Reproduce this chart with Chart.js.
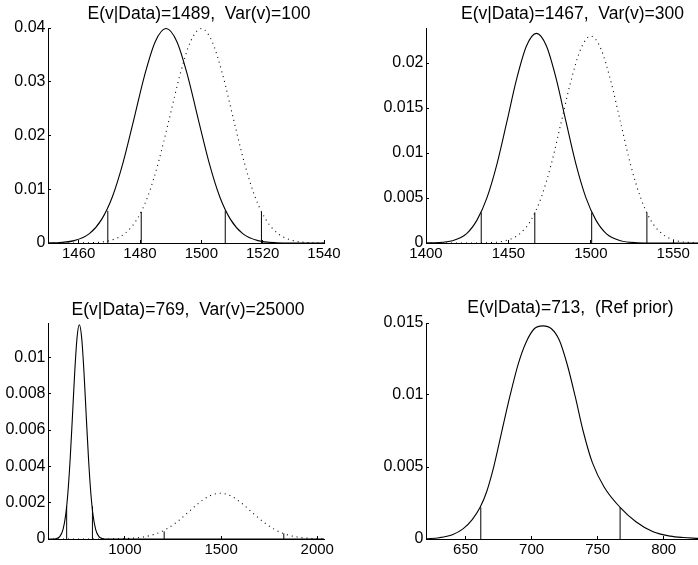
<!DOCTYPE html>
<html>
<head>
<meta charset="utf-8">
<script src="https://cdn.jsdelivr.net/npm/chart.js@4.4.0/dist/chart.umd.min.js"></script>
<style>
  body { margin: 0; background: #fff; }
  #wrap { position: relative; width: 698px; height: 565px; overflow: hidden; }
  canvas { position: absolute; }
</style>
</head>
<body>
<div id="wrap">
  <canvas id="c1" width="349" height="280" style="left:0;top:0"></canvas>
  <canvas id="c2" width="349" height="280" style="left:349px;top:0"></canvas>
  <canvas id="c3" width="349" height="285" style="left:0;top:280px"></canvas>
  <canvas id="c4" width="349" height="285" style="left:349px;top:280px"></canvas>
</div>
<script>
// panel titles
const titles = [
  "E(v|Data)=1489,  Var(v)=100",
  "E(v|Data)=1467,  Var(v)=300",
  "E(v|Data)=769,  Var(v)=25000",
  "E(v|Data)=713,  (Ref prior)"
];

// panel 1 - prior var 100
const p1PostX = [1450, 1452.5, 1458.5, 1463.5, 1467.5, 1471, 1474.5, 1478, 1481.5, 1485, 1488.5, 1492, 1495.5, 1499, 1502.5, 1506, 1509.5, 1513.5, 1518.5, 1524.5, 1530.5, 1540];
const p1PostY = [0.00002, 0.00006, 0.00044, 0.00175, 0.0044, 0.0086, 0.0150, 0.0230, 0.0312, 0.0375, 0.0399, 0.0375, 0.0312, 0.0230, 0.0150, 0.0086, 0.0044, 0.00175, 0.00044, 0.00006, 0.00001, 0];
const p1PriorX = [1450, 1458, 1464, 1470, 1475, 1479, 1482.5, 1486, 1489.5, 1493, 1496.5, 1500, 1503.5, 1507, 1510.5, 1514, 1517.5, 1521, 1525, 1530, 1536, 1540];
const p1PriorY = [0, 0.00001, 0.00006, 0.00044, 0.00175, 0.0044, 0.0086, 0.0150, 0.0230, 0.0312, 0.0375, 0.0399, 0.0375, 0.0312, 0.0230, 0.0150, 0.0086, 0.0044, 0.00175, 0.00044, 0.00006, 0.00001];
const p1QuantX = [1469.5, 1480.4, 1507.8, 1519.6];
const p1QuantH = [0.0060, 0.0058, 0.0060, 0.0058];
const p1XTicks = [1460, 1480, 1500, 1520, 1540];
const p1XLabels = ["1460", "1480", "1500", "1520", "1540"];
const p1YTicks = [0, 0.01, 0.02, 0.03, 0.04];
const p1YLabels = ["0", "0.01", "0.02", "0.03", "0.04"];

// panel 2 - prior var 300
const p2PostX = [1400, 1405.8, 1416, 1424.5, 1431, 1437, 1443, 1449, 1455, 1461, 1467, 1473, 1479, 1485, 1491, 1497, 1503, 1509.5, 1518, 1528.2, 1538.4, 1565];
const p2PostY = [0.00001, 0.000036, 0.00026, 0.00102, 0.00257, 0.00504, 0.00874, 0.01343, 0.01824, 0.02192, 0.0233, 0.02192, 0.01824, 0.01343, 0.00874, 0.00504, 0.00257, 0.00102, 0.00026, 0.000036, 0.000003, 0];
const p2PriorX = [1400, 1427.3, 1437.7, 1448.1, 1456.8, 1463.7, 1469.7, 1475.8, 1481.8, 1487.9, 1494, 1500, 1506, 1512.1, 1518.2, 1524.2, 1530.3, 1536.3, 1543.3, 1551.9, 1562.3, 1565];
const p2PriorY = [0, 0.000003, 0.000035, 0.000256, 0.00101, 0.00254, 0.00497, 0.00863, 0.01325, 0.0180, 0.02163, 0.0230, 0.02163, 0.0180, 0.01325, 0.00863, 0.00497, 0.00254, 0.00101, 0.000256, 0.000035, 0.00002];
const p2QuantX = [1433.5, 1466, 1500.5, 1534];
const p2QuantH = [0.0034, 0.0034, 0.0034, 0.0034];
const p2XTicks = [1400, 1450, 1500, 1550];
const p2XLabels = ["1400", "1450", "1500", "1550"];
const p2YTicks = [0, 0.005, 0.01, 0.015, 0.02];
const p2YLabels = ["0", "0.005", "0.01", "0.015", "0.02"];

// panel 3 - prior var 25000
const p3PostX = [600, 620.2, 640.6, 661, 678, 691.6, 703.5, 715.4, 727.3, 739.2, 751.1, 763, 774.9, 786.8, 798.7, 810.6, 822.5, 834.4, 848, 865, 885.4, 905.8, 2035];
const p3PostY = [0, 0.000002, 0.000018, 0.00013, 0.00052, 0.0013, 0.00255, 0.00443, 0.0068, 0.00924, 0.0111, 0.0118, 0.0111, 0.00924, 0.0068, 0.00443, 0.00255, 0.0013, 0.00052, 0.00013, 0.000018, 0.000002, 0];
const p3PriorX = [600, 823, 919, 1015, 1095, 1159, 1215, 1271, 1327, 1383, 1439, 1495, 1551, 1607, 1663, 1719, 1775, 1831, 1895, 1975, 2035];
const p3PriorY = [0, 0.0000004, 0.000004, 0.000028, 0.000111, 0.000278, 0.000545, 0.000946, 0.001452, 0.00197, 0.00237, 0.00252, 0.00237, 0.00197, 0.001452, 0.000946, 0.000545, 0.000278, 0.000111, 0.000028, 0.000008];
const p3QuantX = [697, 831, 1204, 1826];
const p3QuantH = [0.0018, 0.0018, 0.00042, 0.00031];
const p3XTicks = [1000, 1500, 2000];
const p3XLabels = ["1000", "1500", "2000"];
const p3YTicks = [0, 0.002, 0.004, 0.006, 0.008, 0.01];
const p3YLabels = ["0", "0.002", "0.004", "0.006", "0.008", "0.01"];

// panel 4 - reference prior, no prior curve
const p4PostX = [620, 630, 640, 648, 655, 661, 666, 671, 677, 683.5, 690, 696, 702, 708.5, 715, 721, 727, 733, 739, 746, 755, 767, 779, 792, 805, 815, 826];
const p4PostY = [0.00002, 0.00009, 0.0003, 0.0007, 0.00135, 0.0022, 0.0033, 0.0049, 0.0073, 0.0099, 0.0122, 0.0137, 0.0146, 0.0148, 0.0146, 0.0138, 0.0121, 0.0099, 0.0075, 0.0053, 0.0036, 0.0022, 0.0012, 0.0005, 0.0002, 0.0001, 0.00004];
const p4QuantX = [661.5, 767];
const p4QuantH = [0.0022, 0.0022];
const p4XTicks = [650, 700, 750, 800];
const p4XLabels = ["650", "700", "750", "800"];
const p4YTicks = [0, 0.005, 0.01, 0.015];
const p4YLabels = ["0", "0.005", "0.01", "0.015"];

Chart.defaults.font.family = '"Liberation Sans", Arial, Helvetica, sans-serif';
Chart.defaults.color = "#000";

const zip = (xs, ys) => xs.map((x, i) => ({ x: x, y: ys[i] }));

// move the title sideways after layout (matlab centres it a bit off)
const nudgeTitle = {
  id: "nudgeTitle",
  afterLayout(chart, args, opts) {
    const t = chart.titleBlock;
    if (t && opts.dx) {
      t.left += opts.dx;
      t.right += opts.dx;
    }
  }
};

function makePanel(id, p) {
  const datasets = [
    { data: zip(p.postX, p.postY), showLine: true, borderColor: "#000", borderWidth: 1.1, cubicInterpolationMode: "monotone" }
  ];
  if (p.priorX) {
    datasets.push({ data: zip(p.priorX, p.priorY), showLine: true, borderColor: "#000", borderWidth: 1.1, borderDash: [1, 4], cubicInterpolationMode: "monotone" });
  }
  p.qX.forEach((x, i) => {
    datasets.push({ data: [{ x: x, y: 0 }, { x: x, y: p.qH[i] }], showLine: true, borderColor: "#000", borderWidth: 1 });
  });

  new Chart(document.getElementById(id), {
    type: "scatter",
    data: { datasets },
    plugins: [nudgeTitle],
    options: {
      responsive: false,
      animation: false,
      devicePixelRatio: 1,
      layout: { padding: { left: 0, right: p.padRight, top: 0, bottom: 0 } },
      elements: { point: { radius: 0 } },
      plugins: {
        legend: { display: false },
        tooltip: { enabled: false },
        title: {
          display: true,
          text: p.title,
          color: "#000",
          font: { size: 17.5, weight: "normal" },
          padding: { top: p.titleTop, bottom: p.titleBottom }
        },
        nudgeTitle: { dx: p.titleDx }
      },
      scales: {
        x: {
          type: "linear",
          min: p.xMin,
          max: p.xMax,
          afterBuildTicks: s => { s.ticks = p.xTicks.map(v => ({ value: v })); },
          afterFit: s => { s.height = p.xAxisH; },
          ticks: { autoSkip: false, maxRotation: 0, padding: 5, font: { size: 15 }, callback: (v, i) => p.xLabels[i] },
          grid: { drawOnChartArea: false, drawTicks: true, tickLength: -3, color: "#000" },
          border: { display: true, color: "#000", width: 1 }
        },
        y: {
          type: "linear",
          min: 0,
          max: p.yMax,
          afterBuildTicks: s => { s.ticks = p.yTicks.map(v => ({ value: v })); },
          afterFit: s => { s.width = p.yAxisW; },
          ticks: { autoSkip: false, padding: 5.5, font: { size: 16 }, callback: (v, i) => p.yLabels[i] },
          grid: { drawOnChartArea: false, drawTicks: true, tickLength: -3, color: "#000" },
          border: { display: true, color: "#000", width: 1 }
        }
      }
    }
  });
}

makePanel("c1", {
  title: titles[0], titleTop: 4.0, titleBottom: 3.0, titleDx: 37,
  postX: p1PostX, postY: p1PostY, priorX: p1PriorX, priorY: p1PriorY, qX: p1QuantX, qH: p1QuantH,
  xMin: 1450, xMax: 1540, yMax: 0.04,
  xTicks: p1XTicks, xLabels: p1XLabels, yTicks: p1YTicks, yLabels: p1YLabels,
  yAxisW: 48, xAxisH: 37, padRight: 25
});
makePanel("c2", {
  title: titles[1], titleTop: 4.0, titleBottom: 3.0, titleDx: 49,
  postX: p2PostX, postY: p2PostY, priorX: p2PriorX, priorY: p2PriorY, qX: p2QuantX, qH: p2QuantH,
  xMin: 1400, xMax: 1565, yMax: 0.0239,
  xTicks: p2XTicks, xLabels: p2XLabels, yTicks: p2YTicks, yLabels: p2YLabels,
  yAxisW: 77, xAxisH: 37, padRight: 0
});
makePanel("c3", {
  title: titles[2], titleTop: 19.5, titleBottom: 2.5, titleDx: 26,
  postX: p3PostX, postY: p3PostY, priorX: p3PriorX, priorY: p3PriorY, qX: p3QuantX, qH: p3QuantH,
  xMin: 600, xMax: 2035, yMax: 0.0119,
  xTicks: p3XTicks, xLabels: p3XLabels, yTicks: p3YTicks, yLabels: p3YLabels,
  yAxisW: 48, xAxisH: 26, padRight: 25
});
makePanel("c4", {
  title: titles[3], titleTop: 18.0, titleBottom: 4.0, titleDx: 47,
  postX: p4PostX, postY: p4PostY, priorX: null, priorY: null, qX: p4QuantX, qH: p4QuantH,
  xMin: 620, xMax: 826, yMax: 0.015,
  xTicks: p4XTicks, xLabels: p4XLabels, yTicks: p4YTicks, yLabels: p4YLabels,
  yAxisW: 77, xAxisH: 26, padRight: 0
});
</script>
</body>
</html>
